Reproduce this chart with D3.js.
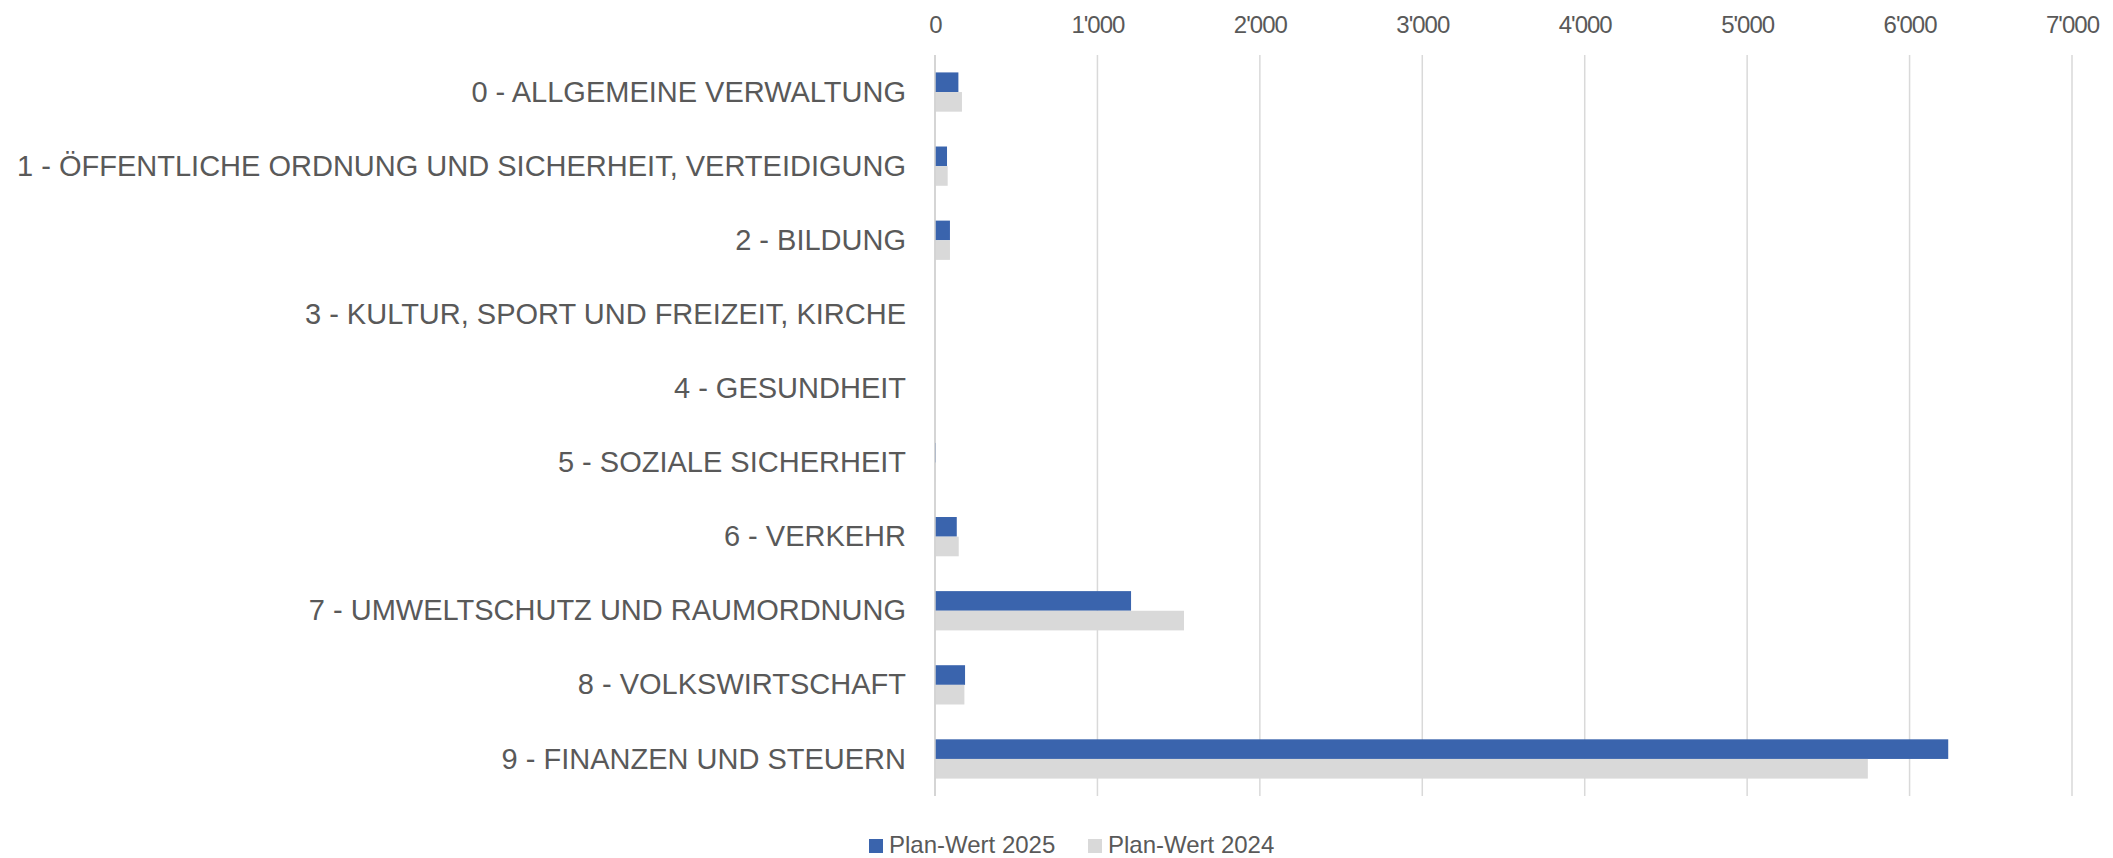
<html>
  <head>
    <meta charset="utf-8" />
    <script src="https://d3js.org/d3.v7.min.js"></script>
  </head>
  <style>
    body {
      margin: 0;
      background: #fff;
    }
    text {
      font-family: "Liberation Sans", Arial, sans-serif;
      fill: #595959;
    }
  </style>
  <body>
    <div id="viz">
      <svg></svg>
    </div>
    <script>
      // Kategorien (Funktionale Gliederung)
      var categories = [
        "0 - ALLGEMEINE VERWALTUNG",
        "1 - ÖFFENTLICHE ORDNUNG UND SICHERHEIT, VERTEIDIGUNG",
        "2 - BILDUNG",
        "3 - KULTUR, SPORT UND FREIZEIT, KIRCHE",
        "4 - GESUNDHEIT",
        "5 - SOZIALE SICHERHEIT",
        "6 - VERKEHR",
        "7 - UMWELTSCHUTZ UND RAUMORDNUNG",
        "8 - VOLKSWIRTSCHAFT",
        "9 - FINANZEN UND STEUERN"
      ];
      var plan2025 = [144, 74, 92, 0, 0, 5, 134, 1207, 185, 6238];
      var plan2024 = [166, 78, 92, 0, 0, 3, 146, 1533, 181, 5743];
      var seriesNames = ["Plan-Wert 2025", "Plan-Wert 2024"];
      var seriesColors = ["#3a64ad", "#d9d9d9"];
      var xTicks = [0, 1000, 2000, 3000, 4000, 5000, 6000, 7000];

      var width = 2113,
        height = 858;
      var plotLeft = 935,
        plotRight = 2072,
        plotTop = 55,
        plotBottom = 796;

      var svg = d3
        .select("svg")
        .attr("width", width)
        .attr("height", height);

      var xScale = d3
        .scaleLinear()
        .domain([0, 7000])
        .range([plotLeft, plotRight]);

      var yScale = d3
        .scaleBand()
        .domain(categories)
        .range([plotTop, plotBottom])
        .paddingInner(0.47)
        .paddingOuter(0.235);

      // Tausendertrennzeichen mit Apostroph
      var fmt = function (v) {
        return d3.format(",")(v).replace(/,/g, "'");
      };

      // Gitterlinien
      svg
        .append("g")
        .selectAll("line")
        .data(xTicks)
        .enter()
        .append("line")
        .attr("x1", function (d) {
          return xScale(d);
        })
        .attr("x2", function (d) {
          return xScale(d);
        })
        .attr("y1", plotTop)
        .attr("y2", plotBottom)
        .style("stroke", "#d9d9d9")
        .style("stroke-width", "1.5px");

      // Achsenbeschriftung oben
      var xAxis = d3
        .axisTop(xScale)
        .tickValues(xTicks)
        .tickFormat(fmt)
        .tickSize(0)
        .tickPadding(0);

      var gx = svg
        .append("g")
        .attr("transform", "translate(0,33)")
        .call(xAxis);
      gx.select(".domain").remove();
      gx.selectAll("text")
        .attr("dy", 0)
        .style("font-family", "'Liberation Sans', Arial, sans-serif")
        .style("font-size", "24px")
        .style("letter-spacing", "-1px")
        .style("fill", "#595959");

      // Kategorien links
      var yAxis = d3.axisLeft(yScale).tickSize(0).tickPadding(0);
      var gy = svg
        .append("g")
        .attr("transform", "translate(906,0)")
        .call(yAxis);
      gy.select(".domain").remove();
      gy.selectAll("text")
        .attr("dy", "0.33em")
        .style("font-family", "'Liberation Sans', Arial, sans-serif")
        .style("font-size", "29px")
        .style("fill", "#595959");

      var half = yScale.bandwidth() / 2;

      // Balken 2025 (oben) und 2024 (unten)
      [plan2025, plan2024].forEach(function (values, s) {
        svg
          .append("g")
          .selectAll("rect")
          .data(values)
          .enter()
          .append("rect")
          .attr("x", xScale(0))
          .attr("y", function (d, i) {
            return yScale(categories[i]) + s * half;
          })
          .attr("width", function (d) {
            return xScale(d) - xScale(0);
          })
          .attr("height", half)
          .style("fill", seriesColors[s]);
      });

      // Nulllinie
      svg
        .append("line")
        .attr("x1", xScale(0))
        .attr("x2", xScale(0))
        .attr("y1", plotTop)
        .attr("y2", plotBottom)
        .style("stroke", "#d0d0d0")
        .style("stroke-width", "1.5px");

      // Legende
      var legendX = [869, 1088];
      var legend = svg
        .append("g")
        .selectAll("g")
        .data(seriesNames)
        .enter()
        .append("g")
        .attr("transform", function (d, i) {
          return "translate(" + legendX[i] + ",839)";
        });
      legend
        .append("rect")
        .attr("width", 14)
        .attr("height", 14)
        .style("fill", function (d, i) {
          return seriesColors[i];
        });
      legend
        .append("text")
        .attr("x", 20)
        .attr("y", 14)
        .style("font-size", "24px")
        .text(function (d) {
          return d;
        });
    </script>
  </body>
</html>
